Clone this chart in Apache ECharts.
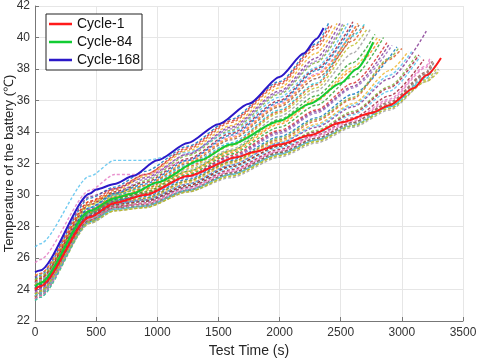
<!DOCTYPE html>
<html>
<head>
<meta charset="UTF-8">
<title>Battery temperature</title>
<style>
  html, body { margin: 0; padding: 0; background: #fff; }
  #container { width: 477px; height: 359px; }
</style>
</head>
<body>
<div id="container"></div>
<script src="https://cdn.jsdelivr.net/npm/echarts@6/dist/echarts.min.js"></script>
<script>
// grid times (s) used by the background cycles
var timeGrid = [0, 40, 450, 650, 900, 1250, 1600, 2000, 2300, 2600, 2900, 3200];

// background cycles: temperatures at timeGrid (until the cycle ends)
var bgTemps = [
  [24.7, 24.9, 29.8, 30.5, 31.5, 33.1, 34.8, 37.2, 39.6],
  [24.3, 24.5, 29.5, 30.3, 31.3, 32.9, 34.6, 37.0, 39.3],
  [24.0, 24.2, 29.3, 30.2, 31.2, 32.8, 34.4, 36.8, 39.0],
  [24.8, 25.0, 29.9, 30.4, 31.1, 32.6, 34.3, 36.6, 38.7],
  [23.9, 24.1, 29.0, 30.0, 30.9, 32.5, 34.1, 36.4, 38.4],
  [26.7, 26.9, 31.2, 32.2, 32.2, 32.7, 34.0, 36.2, 38.1],
  [24.4, 24.6, 29.4, 30.2, 30.8, 32.3, 33.9, 36.0, 38.0],
  [25.7, 25.9, 30.3, 31.3, 31.3, 32.2, 33.7, 35.8, 37.7],
  [23.7, 23.9, 28.9, 29.9, 30.6, 32.0, 33.5, 35.6, 37.4],
  [24.2, 24.4, 29.2, 30.0, 30.5, 31.9, 33.3, 35.4, 37.1, 40.1],
  [24.6, 24.8, 29.4, 30.1, 30.4, 31.7, 33.1, 35.2, 36.8, 39.5],
  [23.8, 24.0, 28.8, 29.8, 30.3, 31.6, 32.9, 35.0, 36.6, 39.0],
  [24.1, 24.3, 28.9, 29.8, 30.2, 31.4, 32.7, 34.5, 36.0, 37.9],
  [23.6, 23.8, 28.6, 29.6, 30.1, 31.3, 32.6, 34.3, 35.7, 37.5],
  [24.5, 24.7, 29.1, 29.8, 30.1, 31.2, 32.5, 34.1, 35.4, 37.1],
  [23.9, 24.1, 28.7, 29.6, 30.0, 31.1, 32.3, 33.9, 35.2, 36.8],
  [24.3, 24.5, 28.9, 29.7, 29.9, 31.0, 32.2, 33.7, 34.9, 36.4],
  [23.5, 23.7, 28.4, 29.4, 29.8, 30.9, 32.1, 33.5, 34.7, 36.1, 38.6],
  [24.0, 24.2, 28.6, 29.5, 29.7, 30.8, 32.0, 33.4, 34.5, 35.8, 37.9],
  [24.2, 24.4, 28.7, 29.5, 29.7, 30.7, 31.9, 33.3, 34.3, 35.6, 37.4],
  [23.7, 23.9, 28.4, 29.3, 29.6, 30.6, 31.8, 33.1, 34.1, 35.3, 36.9],
  [24.4, 24.6, 28.8, 29.5, 29.6, 30.5, 31.7, 33.0, 33.9, 35.1, 36.6],
  [23.4, 23.6, 28.3, 29.2, 29.5, 30.5, 31.6, 32.9, 33.8, 34.9, 36.3],
  [23.8, 24.0, 28.5, 29.3, 29.4, 30.4, 31.5, 32.8, 33.7, 34.7, 36.0, 38.1],
  [24.1, 24.3, 28.6, 29.3, 29.4, 30.3, 31.4, 32.7, 33.6, 34.6, 35.8, 37.7],
  [23.5, 23.7, 28.3, 29.1, 29.3, 30.3, 31.3, 32.6, 33.5, 34.5, 35.6, 37.5],
  [23.3, 23.5, 28.2, 29.0, 29.2, 30.2, 31.2, 32.5, 33.4, 34.4, 35.5, 37.3],
  [23.6, 23.8, 28.2, 29.0, 29.2, 30.2, 31.1, 32.4, 33.3, 34.3, 35.4, 37.2],
  [24.9, 25.0, 29.6, 30.1, 30.6, 32.1, 33.6, 35.7, 37.6],
  [24.0, 24.2, 28.8, 29.7, 30.2, 31.5, 32.8, 34.8, 36.3, 38.4],
  [24.5, 24.7, 29.6, 30.4, 31.3, 33.0, 34.7, 37.1, 39.5],
  [23.8, 24.0, 29.1, 30.1, 31.0, 32.6, 34.2, 36.5, 38.5],
  [24.1, 24.3, 29.2, 30.1, 30.7, 32.2, 33.8, 35.9, 37.9],
  [23.5, 23.8, 28.7, 29.8, 30.4, 31.8, 33.2, 35.3, 37.0, 39.8],
  [24.3, 24.5, 29.0, 29.9, 30.3, 31.5, 32.8, 34.6, 36.1, 38.1],
  [23.9, 24.1, 28.7, 29.6, 30.0, 31.2, 32.4, 34.0, 35.3, 36.9],
  [24.6, 24.8, 28.9, 29.6, 29.8, 30.9, 32.1, 33.6, 34.8, 36.2, 38.7],
  [23.6, 23.8, 28.5, 29.4, 29.7, 30.7, 31.9, 33.3, 34.4, 35.7, 37.6],
  [24.2, 24.4, 28.6, 29.4, 29.6, 30.6, 31.8, 33.1, 34.0, 35.2, 36.8],
  [23.4, 23.6, 28.4, 29.2, 29.5, 30.4, 31.5, 32.8, 33.8, 34.8, 36.1, 38.2],
  [24.0, 24.2, 28.4, 29.2, 29.3, 30.3, 31.4, 32.7, 33.6, 34.6, 35.9, 37.8],
  [23.3, 23.5, 28.3, 29.1, 29.3, 30.3, 31.3, 32.6, 33.5, 34.4, 35.6, 37.4],
  [23.7, 23.9, 28.3, 29.0, 29.2, 30.2, 31.2, 32.5, 33.4, 34.4, 35.5, 37.2],
  [24.4, 24.6, 28.5, 29.1, 29.3, 30.3, 31.3, 32.6, 33.5, 34.5, 35.7, 37.6]
];
// last [time, temperature] point of each background cycle
var bgEnds = [
  [2400, 40.9], [2430, 40.8], [2470, 40.9], [2500, 41.0], [2530, 40.8],
  [2560, 40.9], [2600, 41.0], [2620, 40.7], [2650, 40.8], [2700, 40.9],
  [2720, 40.6], [2740, 40.5], [2820, 39.9], [2850, 40.0], [2880, 39.7],
  [2920, 39.5], [2960, 39.4], [3000, 39.3], [3050, 39.1], [3200, 40.4],
  [3120, 38.9], [3150, 38.8], [3180, 38.6], [3240, 38.6], [3260, 38.4],
  [3280, 38.3], [3290, 38.1], [3300, 38.0], [2640, 40.9], [2780, 40.2],
  [2410, 40.8], [2520, 40.9], [2610, 40.9], [2690, 40.7], [2800, 40.0],
  [2900, 39.6], [2980, 39.4], [3080, 39.1], [3140, 38.9], [3230, 38.7],
  [3250, 38.5], [3270, 38.2], [3310, 37.9], [3260, 38.4]
];
var bgColors = ['#0072BD', '#D95319', '#EDB120', '#7E2F8E', '#77AC30', '#4DBEEE',
  '#A2142F', '#e377c2', '#8c564b', '#17becf', '#bcbd22', '#9a9a9a', '#ff7f0e',
  '#2ca02c', '#d62728', '#9467bd'];

// highlighted cycles
var cycle1Time  = [0, 40, 450, 650, 900, 1250, 1650, 1800, 2000, 2250, 2500, 2750, 2900, 3100, 3200, 3320];
var cycle1Temp  = [24.0, 24.2, 28.6, 29.5, 30.0, 31.2, 32.4, 32.75, 33.2, 33.8, 34.6, 35.2, 35.7, 36.8, 37.6, 38.7];
var cycle84Time = [0, 40, 450, 650, 800, 1000, 1350, 1600, 2000, 2250, 2500, 2630, 2766];
var cycle84Temp = [24.2, 24.4, 29.0, 29.8, 30.1, 30.8, 32.2, 33.2, 34.7, 35.8, 37.1, 38.0, 39.7];
var cycle168Time = [0, 40, 450, 500, 650, 800, 1000, 1250, 1500, 1750, 2000, 2200, 2300, 2360];
var cycle168Temp = [25.1, 25.2, 30.1, 30.35, 30.7, 31.2, 32.2, 33.3, 34.5, 35.8, 37.5, 39.0, 39.9, 40.6];

var xTicks = [0, 3500, 500];
var yTicks = [22, 42, 2];

var fontFam = 'Liberation Sans, Arial, sans-serif';

function pairs(ts, vs) {
  return ts.map(function (t, i) { return [t, vs[i]]; });
}

var series = bgTemps.map(function (row, i) {
  var pts = row.map(function (v, j) { return [timeGrid[j], v]; });
  pts.push(bgEnds[i]);
  return {
    type: 'line',
    data: pts,
    symbol: 'none',
    smooth: 0.25,
    smoothMonotone: 'x',
    silent: true,
    lineStyle: { color: bgColors[i % bgColors.length], width: 1.4, type: [3, 2], opacity: 0.8 }
  };
});

function mainLine(name, ts, vs, color) {
  return {
    name: name, type: 'line', data: pairs(ts, vs),
    symbol: 'none', smooth: 0.25, smoothMonotone: 'x',
    itemStyle: { color: color },
    lineStyle: { color: color, width: 2 }
  };
}
series.push(mainLine('Cycle-1', cycle1Time, cycle1Temp, '#ff1a1a'));
series.push(mainLine('Cycle-84', cycle84Time, cycle84Temp, '#11cc33'));
series.push(mainLine('Cycle-168', cycle168Time, cycle168Temp, '#2b18c8'));

var myChart = echarts.init(document.getElementById('container'));
myChart.setOption({
  animation: false,
  textStyle: { fontFamily: fontFam },
  grid: { left: 35, right: 14, top: 6, bottom: 38, containLabel: false, outerBoundsMode: 'none' },
  legend: {
    data: ['Cycle-1', 'Cycle-84', 'Cycle-168'],
    orient: 'vertical',
    left: 46, top: 14,
    padding: [3, 2, 3, 3],
    icon: 'rect',
    itemGap: 4,
    itemWidth: 23,
    itemHeight: 2.5,
    borderColor: '#222',
    borderWidth: 1,
    borderRadius: 0,
    backgroundColor: '#fff',
    textStyle: { fontSize: 14, lineHeight: 14, color: '#111', fontFamily: fontFam }
  },
  xAxis: {
    type: 'value',
    min: xTicks[0], max: xTicks[1], interval: xTicks[2],
    name: 'Test Time (s)',
    nameLocation: 'middle',
    nameGap: 23,
    nameMoveOverlap: false,
    nameTextStyle: { fontSize: 14, color: '#262626' },
    axisLine: { show: true, lineStyle: { color: '#777' } },
    axisTick: { show: true, inside: true, length: 4, lineStyle: { color: '#777' } },
    axisLabel: { fontSize: 12, color: '#333', margin: 6, formatter: function (v) { return String(v); } },
    splitLine: { show: true, lineStyle: { color: '#e6e6e6' } }
  },
  yAxis: {
    type: 'value',
    min: yTicks[0], max: yTicks[1], interval: yTicks[2],
    name: 'Temperature of the battery (℃)',
    nameLocation: 'middle',
    nameGap: 19,
    nameMoveOverlap: false,
    nameTextStyle: { fontSize: 13, color: '#262626' },
    axisLine: { show: true, lineStyle: { color: '#777' } },
    axisTick: { show: true, inside: true, length: 4, lineStyle: { color: '#777' } },
    axisLabel: { fontSize: 12, color: '#333', margin: 5 },
    splitLine: { show: true, lineStyle: { color: '#e6e6e6' } }
  },
  series: series
});
</script>
</body>
</html>
